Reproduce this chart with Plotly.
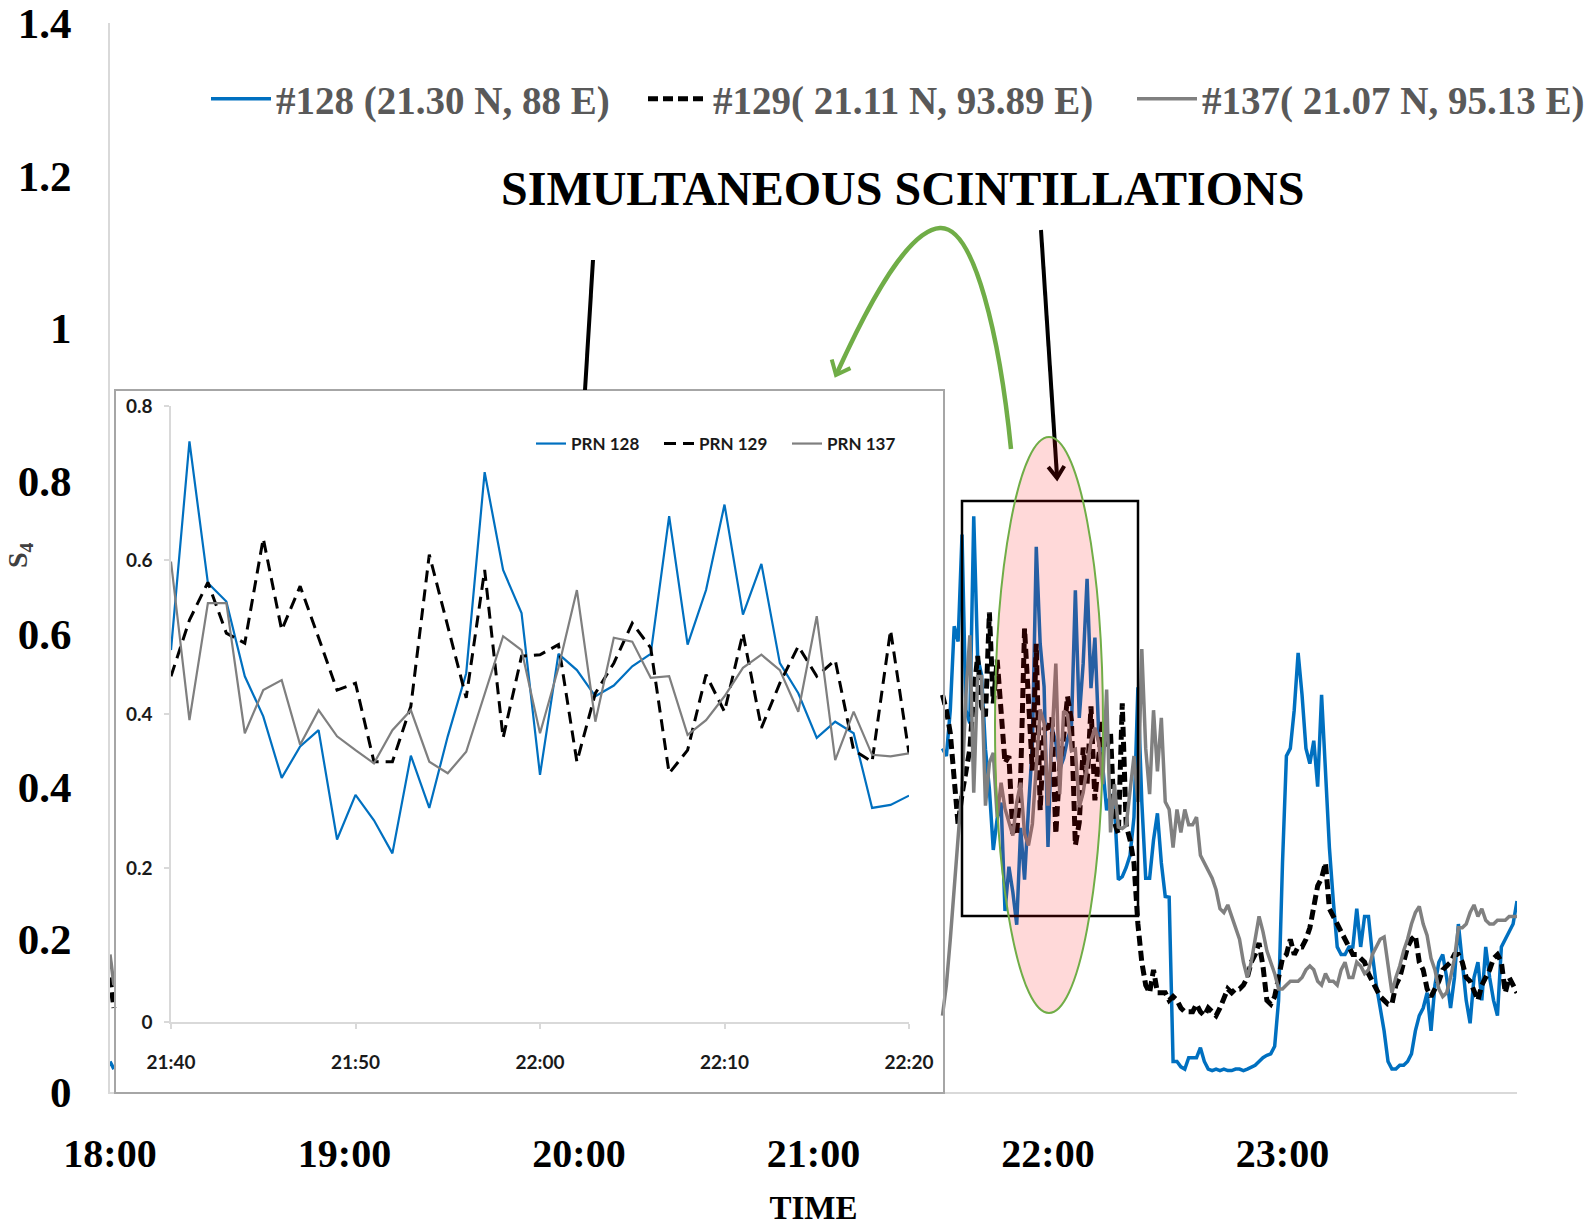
import math
import pandas as pd
import plotly.graph_objects as go

# ---------------- data ----------------
series_names = ["#128 (21.30 N, 88 E)", "#129( 21.11 N, 93.89 E)", "#137( 21.07 N, 95.13 E)"]
inset_names = ["PRN 128", "PRN 129", "PRN 137"]

# visible values at 18:00, 18:01 (rest behind the inset)
start_prn128 = [0.04, 0.03]
start_prn129 = [0.15, 0.11]
start_prn137 = [0.18, 0.14]

# 21:33 .. 21:39 (1-min)
pre_prn128 = [0.45, 0.44, 0.50, 0.61, 0.59, 0.73, 0.50]
pre_prn129 = [0.52, 0.50, 0.47, 0.40, 0.35, 0.39, 0.42]
pre_prn137 = [0.10, 0.14, 0.20, 0.27, 0.33, 0.40, 0.52]

# 21:40 .. 22:20 (1-min) - inset window
inset_prn128 = [0.483, 0.754, 0.570, 0.546, 0.449, 0.397, 0.317, 0.358, 0.379, 0.237, 0.295,
                0.262, 0.219, 0.346, 0.278, 0.371, 0.453, 0.714, 0.587, 0.531, 0.321,
                0.478, 0.457, 0.423, 0.437, 0.462, 0.478, 0.657, 0.490, 0.561, 0.672,
                0.529, 0.595, 0.466, 0.427, 0.369, 0.390, 0.375, 0.278, 0.282, 0.294]
inset_prn129 = [0.449, 0.522, 0.571, 0.505, 0.492, 0.628, 0.509, 0.566, 0.499, 0.431, 0.440,
                0.338, 0.338, 0.410, 0.607, 0.514, 0.421, 0.587, 0.369, 0.475, 0.477,
                0.490, 0.338, 0.427, 0.466, 0.518, 0.486, 0.323, 0.353, 0.451, 0.403,
                0.505, 0.382, 0.440, 0.488, 0.449, 0.470, 0.353, 0.338, 0.509, 0.349]
inset_prn137 = [0.598, 0.392, 0.544, 0.544, 0.375, 0.431, 0.444, 0.360, 0.405, 0.371, 0.353,
                0.336, 0.379, 0.405, 0.338, 0.323, 0.351, 0.427, 0.501, 0.483, 0.375,
                0.460, 0.561, 0.390, 0.499, 0.494, 0.447, 0.449, 0.373, 0.392, 0.423,
                0.460, 0.477, 0.457, 0.403, 0.527, 0.340, 0.403, 0.347, 0.345, 0.349]

# 22:21 .. 24:00 (1-min)
post_prn128 = [0.31, 0.36, 0.53, 0.38, 0.28, 0.28, 0.33, 0.365, 0.30, 0.256,
               0.255, 0.04, 0.04, 0.033, 0.03, 0.045, 0.045, 0.045, 0.058, 0.04,
               0.03, 0.028, 0.03, 0.028, 0.03, 0.028, 0.028, 0.03, 0.03, 0.028,
               0.03, 0.032, 0.035, 0.04, 0.045, 0.048, 0.05, 0.06, 0.12, 0.30,
               0.44, 0.45, 0.50, 0.575, 0.52, 0.45, 0.43, 0.46, 0.40, 0.52,
               0.42, 0.32, 0.25, 0.19, 0.18, 0.18, 0.19, 0.19, 0.24, 0.19,
               0.23, 0.23, 0.18, 0.14, 0.11, 0.08, 0.04, 0.03, 0.03, 0.035,
               0.035, 0.04, 0.05, 0.08, 0.10, 0.11, 0.13, 0.08, 0.14, 0.17,
               0.18, 0.15, 0.11, 0.15, 0.22, 0.17, 0.12, 0.09, 0.15, 0.17,
               0.12, 0.19, 0.15, 0.12, 0.10, 0.19, 0.20, 0.21, 0.22, 0.25]
post_prn129 = [0.33, 0.30, 0.22, 0.17, 0.14, 0.13, 0.16, 0.13, 0.13, 0.13,
               0.12, 0.125, 0.12, 0.11, 0.105, 0.105, 0.105, 0.115, 0.105, 0.10,
               0.11, 0.105, 0.10, 0.11, 0.125, 0.135, 0.13, 0.135, 0.135, 0.14,
               0.15, 0.17, 0.18, 0.195, 0.165, 0.12, 0.115, 0.125, 0.15, 0.175,
               0.18, 0.20, 0.18, 0.19, 0.19, 0.20, 0.215, 0.24, 0.27, 0.28,
               0.30, 0.24, 0.23, 0.22, 0.21, 0.20, 0.19, 0.18, 0.18, 0.175,
               0.17, 0.155, 0.145, 0.135, 0.125, 0.12, 0.115, 0.115, 0.14, 0.15,
               0.17, 0.19, 0.20, 0.205, 0.17, 0.16, 0.135, 0.125, 0.135, 0.145,
               0.16, 0.165, 0.17, 0.18, 0.18, 0.17, 0.15, 0.145, 0.13, 0.12,
               0.14, 0.15, 0.16, 0.175, 0.18, 0.17, 0.13, 0.15, 0.14, 0.13]
post_prn137 = [0.40, 0.44, 0.38, 0.58, 0.45, 0.39, 0.50, 0.42, 0.49, 0.38,
               0.37, 0.32, 0.37, 0.34, 0.37, 0.35, 0.35, 0.36, 0.31, 0.30,
               0.29, 0.28, 0.265, 0.24, 0.235, 0.245, 0.23, 0.215, 0.20, 0.17,
               0.15, 0.17, 0.20, 0.23, 0.21, 0.185, 0.17, 0.155, 0.135, 0.135,
               0.14, 0.145, 0.145, 0.145, 0.15, 0.16, 0.165, 0.16, 0.145, 0.14,
               0.155, 0.145, 0.145, 0.14, 0.16, 0.17, 0.15, 0.15, 0.17, 0.165,
               0.155, 0.16, 0.18, 0.19, 0.20, 0.203, 0.17, 0.13, 0.15, 0.165,
               0.185, 0.20, 0.22, 0.235, 0.243, 0.22, 0.205, 0.175, 0.16, 0.135,
               0.125, 0.13, 0.15, 0.175, 0.215, 0.215, 0.22, 0.235, 0.245, 0.23,
               0.24, 0.225, 0.22, 0.22, 0.225, 0.225, 0.225, 0.23, 0.23, 0.23]

main_ticks = ["18:00", "19:00", "20:00", "21:00", "22:00", "23:00"]
inset_ticks = ["21:40", "21:50", "22:00", "22:10", "22:20"]
main_yticks = [0, 0.2, 0.4, 0.6, 0.8, 1.0, 1.2, 1.4]
inset_yticks = [0, 0.2, 0.4, 0.6, 0.8]

# ---------------- layout geometry ----------------
W, H = 1596, 1226
ML, MR, MT, MB = 110, 79, 23, 134
PW, PH = W - ML - MR, H - MT - MB


def fx(p):
    return (p - ML) / PW


def fy(p):
    return (MT + PH - p) / PH


day = "2000-01-01 "
start_x = [pd.Timestamp(day + "18:00"), pd.Timestamp(day + "18:01"), pd.Timestamp(day + "18:02")]
cont_x = list(pd.date_range(day + "21:33", periods=len(pre_prn128) + len(inset_prn128) + len(post_prn128), freq="min"))
inset_x = list(pd.date_range(day + "21:40", periods=len(inset_prn128), freq="min"))
main_x = start_x + cont_x


def main_series(s, p, i, q):
    return s + [None] + p + i + q


main_y = [
    main_series(start_prn128, pre_prn128, inset_prn128, post_prn128),
    main_series(start_prn129, pre_prn129, inset_prn129, post_prn129),
    main_series(start_prn137, pre_prn137, inset_prn137, post_prn137),
]
inset_y = [inset_prn128, inset_prn129, inset_prn137]

main_styles = [dict(color="#0070c0", width=3.5),
               dict(color="#000000", width=5, dash="10px,5px"),
               dict(color="#808080", width=3.5)]
inset_styles = [dict(color="#0070c0", width=2.2),
                dict(color="#000000", width=3, dash="12px,7px"),
                dict(color="#7f7f7f", width=2.2)]
main_legwidths = [362, 414, 385]

fig = go.Figure()
for k in range(3):
    fig.add_trace(go.Scatter(x=main_x, y=main_y[k], mode="lines", name=series_names[k],
                             line=main_styles[k], connectgaps=False, legend="legend",
                             legendwidth=main_legwidths[k], xaxis="x", yaxis="y"))
for k in range(3):
    fig.add_trace(go.Scatter(x=inset_x, y=inset_y[k], mode="lines", name=inset_names[k],
                             line=inset_styles[k], legend="legend2", xaxis="x2", yaxis="y2"))

serif = "Liberation Serif"
sans = "Lato"
axis_grey = "#d9d9d9"

fig.update_layout(
    width=W, height=H, autosize=False,
    margin=dict(l=ML, r=MR, t=MT, b=MB, autoexpand=False),
    paper_bgcolor="white", plot_bgcolor="white",
    showlegend=True,
    xaxis=dict(
        type="date", range=[day + "18:00", "2000-01-02 00:00"], domain=[0, 1],
        tickvals=[day + t for t in main_ticks], ticktext=main_ticks,
        showgrid=False, zeroline=False, showline=True, linecolor=axis_grey, linewidth=2,
        ticks="", ticklabelstandoff=25,
        tickfont=dict(family=serif, size=40, color="black", weight="bold"),
        title=dict(text="TIME", standoff=25, font=dict(family=serif, size=33, color="black", weight="bold")),
    ),
    yaxis=dict(
        range=[0, 1.4], domain=[0, 1], tickvals=main_yticks,
        ticktext=["0", "0.2", "0.4", "0.6", "0.8", "1", "1.2", "1.4"],
        showgrid=False, zeroline=False, showline=True, linecolor=axis_grey, linewidth=2,
        ticks="", ticklabelstandoff=28,
        tickfont=dict(family=serif, size=43, color="black", weight="bold"),
    ),
    xaxis2=dict(
        type="date", range=[day + "21:40", day + "22:20"], domain=[fx(171), fx(909)], anchor="y2",
        tickvals=[day + t for t in inset_ticks], ticktext=inset_ticks,
        showgrid=False, zeroline=False, showline=True, linecolor=axis_grey, linewidth=1.5,
        ticks="outside", ticklen=5, tickcolor=axis_grey, tickwidth=1.5, ticklabelstandoff=17,
        tickfont=dict(family=sans, size=19, color="#1a1a1a", weight="bold"),
    ),
    yaxis2=dict(
        range=[0, 0.8], domain=[fy(1022), fy(406)], anchor="x2", tickvals=inset_yticks,
        ticktext=["0", "0.2", "0.4", "0.6", "0.8"],
        showgrid=False, zeroline=False, showline=True, linecolor=axis_grey, linewidth=1.5,
        ticks="outside", ticklen=5, tickcolor=axis_grey, tickwidth=1.5, ticklabelstandoff=8,
        tickfont=dict(family=sans, size=19, color="#1a1a1a", weight="bold"),
    ),
    legend=dict(
        orientation="h", xref="paper", yref="paper",
        x=fx(206), xanchor="left", y=fy(99), yanchor="middle",
        itemwidth=60, bgcolor="rgba(0,0,0,0)", borderwidth=0,
        font=dict(family=serif, size=39, color="#595959", weight="bold"),
    ),
    legend2=dict(
        orientation="h", xref="paper", yref="paper",
        x=fx(531), xanchor="left", y=fy(444), yanchor="middle",
        itemwidth=30, entrywidth=83, bgcolor="rgba(0,0,0,0)", borderwidth=0,
        font=dict(family=sans, size=17, color="#1a1a1a", weight="bold"),
    ),
)


def vhead(hx, hy, tx, ty, arm=14, ang=35):
    """Open V arrow head (pixel coords) at (hx, hy) pointing away from (tx, ty)."""
    dx, dy = hx - tx, hy - ty
    n = math.hypot(dx, dy)
    dx, dy = dx / n, dy / n
    pts = []
    for s in (-1, 1):
        a = math.radians(ang) * s
        rx = dx * math.cos(a) - dy * math.sin(a)
        ry = dx * math.sin(a) + dy * math.cos(a)
        pts.append((hx - arm * rx, hy - arm * ry))
    return "M {:.5f},{:.5f} L {:.5f},{:.5f} L {:.5f},{:.5f}".format(
        fx(pts[0][0]), fy(pts[0][1]), fx(hx), fy(hy), fx(pts[1][0]), fy(pts[1][1]))


shapes = []
# inset frame
shapes.append(dict(type="rect", xref="paper", yref="paper", x0=fx(115), x1=fx(944), y0=fy(1093), y1=fy(390),
                   line=dict(color="#a6a6a6", width=2), fillcolor="rgba(0,0,0,0)", layer="above"))
# pointer line from title to inset
shapes.append(dict(type="line", xref="paper", yref="paper", x0=fx(593), y0=fy(260), x1=fx(585), y1=fy(390),
                   line=dict(color="black", width=4), layer="above"))
# highlight box
shapes.append(dict(type="rect", xref="paper", yref="paper", x0=fx(962), x1=fx(1138), y0=fy(916), y1=fy(501),
                   line=dict(color="black", width=2.5), fillcolor="rgba(0,0,0,0)", layer="above"))
# black arrow into ellipse
shapes.append(dict(type="line", xref="paper", yref="paper", x0=fx(1041), y0=fy(230), x1=fx(1057), y1=fy(476),
                   line=dict(color="black", width=4), layer="above"))
shapes.append(dict(type="path", xref="paper", yref="paper", path=vhead(1057, 478, 1041, 230),
                   line=dict(color="black", width=4), fillcolor="rgba(0,0,0,0)", layer="above"))
# ellipse
shapes.append(dict(type="circle", xref="paper", yref="paper", x0=fx(995), x1=fx(1103), y0=fy(1013), y1=fy(437),
                   line=dict(color="#70ad47", width=2), fillcolor="rgba(255,0,0,0.15)", layer="above"))
# green curved arrow
pts = [(1011, 449), (1000, 340), (975, 226), (940, 228), (905, 230), (862, 318), (837, 373)]
P = [(fx(a), fy(b)) for a, b in pts]
path = "M {:.5f},{:.5f} C {:.5f},{:.5f} {:.5f},{:.5f} {:.5f},{:.5f} C {:.5f},{:.5f} {:.5f},{:.5f} {:.5f},{:.5f}".format(
    *[v for p in P for v in p])
shapes.append(dict(type="path", xref="paper", yref="paper", path=path,
                   line=dict(color="#70ad47", width=4.5), fillcolor="rgba(0,0,0,0)", layer="above"))
shapes.append(dict(type="path", xref="paper", yref="paper", path=vhead(836, 375, 862, 318, arm=16, ang=40),
                   line=dict(color="#70ad47", width=4), fillcolor="rgba(0,0,0,0)", layer="above"))
fig.update_layout(shapes=shapes)

annotations = [
    dict(text="SIMULTANEOUS SCINTILLATIONS", xref="paper", yref="paper", x=fx(902), y=fy(189),
         xanchor="center", yanchor="middle", showarrow=False,
         font=dict(family=serif, size=48, color="black", weight="bold")),
    # y-axis title at the far left edge
    dict(text="S<sub>4</sub>", xref="paper", yref="paper", x=fx(19), y=fy(555), textangle=-90,
         xanchor="center", yanchor="middle", showarrow=False,
         font=dict(family=serif, size=28, color="#404040", weight="bold")),
]
fig.update_layout(annotations=annotations)

fig.write_html("out.html")
